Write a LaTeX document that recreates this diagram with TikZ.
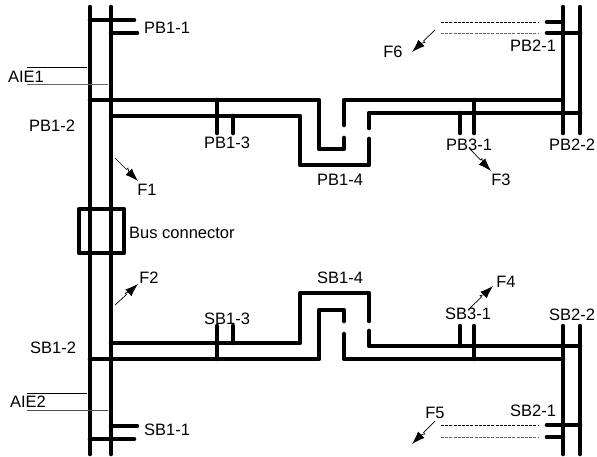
\documentclass[tikz,border=0pt]{standalone}
\usepackage{fontspec}
\setmainfont{Liberation Sans}
\usetikzlibrary{arrows.meta,calc}
\tikzset{
  bus/.style={line width=4.6pt,line cap=round,line join=round},
  tie/.style={line width=0.8pt},
  feed/.style={line width=0.8pt,dashed,dash pattern=on 3pt off 1.2pt},
  fault/.style={line width=0.7pt,-{Latex[length=13pt,width=9pt]}},
  lbl/.style={inner sep=0pt,font=\fontsize{16.5}{18}\selectfont}
}
\begin{document}
\begin{tikzpicture}[x=1pt,y=-1pt]
        \useasboundingbox (0,0) rectangle (597,457);
        % main buses
        \draw[bus] (90,7)--(90,454);
        \draw[bus] (111,7)--(111,454);
        \draw[bus] (563,7)--(563,133);
        \draw[bus] (580,7)--(580,133);
        \draw[bus] (563,326)--(563,454);
        \draw[bus] (580,326)--(580,454);
        % upper branch
        \draw[bus] (90,100)--(319,100)--(319,149)--(344,149)--(344,138);
        \draw[bus] (344,125)--(344,100)--(563,100);
        \draw[bus] (111,116)--(300,116)--(300,165)--(369,165)--(369,139);
        \draw[bus] (369,128)--(369,113)--(580,113);
        % lower branch
        \draw[bus] (111,343)--(300,343)--(300,293)--(369,293)--(369,321);
        \draw[bus] (369,331)--(369,346)--(580,346);
        \draw[bus] (90,359)--(319,359)--(319,310)--(344,310)--(344,321);
        \draw[bus] (344,334)--(344,359)--(563,359);
        % stubs
        \draw[bus] (90,20)--(134,20);
        \draw[bus] (111,33)--(137,33);
        \draw[bus] (90,439)--(134,439);
        \draw[bus] (111,426)--(137,426);
        \draw[bus] (217,100)--(217,133);
        \draw[bus] (233,116)--(233,133);
        \draw[bus] (460,113)--(460,133);
        \draw[bus] (474,100)--(474,133);
        \draw[bus] (217,326)--(217,359);
        \draw[bus] (233,326)--(233,343);
        \draw[bus] (460,326)--(460,346);
        \draw[bus] (474,326)--(474,359);
        \draw[bus] (547,22)--(563,22);
        \draw[bus] (547,33)--(580,33);
        \draw[bus] (547,425)--(580,425);
        \draw[bus] (547,437)--(563,437);
        % bus connector
        \draw[bus] (79,209) rectangle (124,253);
        % AIE lines
        \coordinate(aie1a) at (27,67);
        \coordinate(aie1b) at (87,67);
        \coordinate(aie1c) at (27,84);
        \coordinate(aie1d) at (108,84);
        \coordinate(aie2a) at (27,393);
        \coordinate(aie2b) at (87,393);
        \coordinate(aie2c) at (27,410);
        \coordinate(aie2d) at (108,410);
        \draw[tie](aie1a)--(aie1b);
        \draw[tie,black!60](aie1c)--(aie1d);
        \draw[tie](aie2a)--(aie2b);
        \draw[tie,black!70](aie2c)--(aie2d);
        % feeders
        \coordinate(fd1a) at (441,22);
        \coordinate(fd1b) at (539,22);
        \coordinate(fd2a) at (441,33.5);
        \coordinate(fd2b) at (539,33.5);
        \coordinate(fd3a) at (441,425);
        \coordinate(fd3b) at (539,425);
        \coordinate(fd4a) at (441,437);
        \coordinate(fd4b) at (539,437);
        \draw[feed](fd1a)--(fd1b);
        \draw[feed,black!60](fd2a)--(fd2b);
        \draw[feed](fd3a)--(fd3b);
        \draw[feed,black!60](fd4a)--(fd4b);
        % faults
        \coordinate(f1a) at (115,158);
        \coordinate(f1b) at (138,181);
        \coordinate(f2a) at (115,305);
        \coordinate(f2b) at (138,284);
        \coordinate(f3a) at (470,149);
        \coordinate(f3b) at (491,171);
        \coordinate(f4a) at (470,308);
        \coordinate(f4b) at (493,286);
        \coordinate(f5a) at (435,421);
        \coordinate(f5b) at (412,444);
        \coordinate(f6a) at (435,30);
        \coordinate(f6b) at (412,52);
        \foreach \a/\b in {f1a/f1b,f2a/f2b,f3a/f3b,f4a/f4b,f5a/f5b,f6a/f6b}
          \draw[fault](\a)--($(\a)!0.5!(\b)$)--($(\a)!0.5!(\b)!2pt!90:(\b)$)--($(\a)!0.6!(\b)$)--(\b);
        % labels
        \node[lbl](pb11) at (167,28) {PB1-1};
        \node[lbl](pb12) at (52,126) {PB1-2};
        \node[lbl](pb13) at (227,143) {PB1-3};
        \node[lbl](pb14) at (340,180) {PB1-4};
        \node[lbl](pb21) at (533,46) {PB2-1};
        \node[lbl](pb22) at (572,145) {PB2-2};
        \node[lbl](pb31) at (469,145) {PB3-1};
        \node[lbl](sb11) at (167,430) {SB1-1};
        \node[lbl](sb12) at (53,348) {SB1-2};
        \node[lbl](sb13) at (227,319) {SB1-3};
        \node[lbl](sb14) at (340,278) {SB1-4};
        \node[lbl](sb21) at (533,411) {SB2-1};
        \node[lbl](sb22) at (572,315) {SB2-2};
        \node[lbl](sb31) at (468,314) {SB3-1};
        \node[lbl](aie1) at (26,77) {AIE1};
        \node[lbl](aie2) at (28,402) {AIE2};
        \node[lbl](f1) at (147,190) {F1};
        \node[lbl](f2) at (149,278) {F2};
        \node[lbl](f3) at (501,180) {F3};
        \node[lbl](f4) at (506,282) {F4};
        \node[lbl](f5) at (435,413) {F5};
        \node[lbl](f6) at (393,52) {F6};
        \node[lbl,anchor=west](busc) at (129,233) {Bus connector};
        \end{tikzpicture}
\end{document}
